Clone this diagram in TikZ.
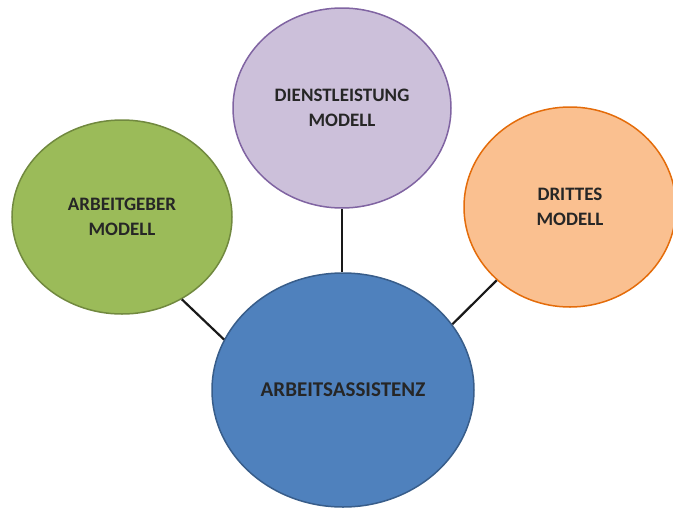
\documentclass[tikz,border=0pt]{standalone}
\usepackage{fontspec}
\setmainfont{Carlito}
\usepackage{xcolor}
\usetikzlibrary{shapes.geometric, positioning}

\definecolor{greenfill}{HTML}{9BBB59}
\definecolor{greenline}{HTML}{71893F}
\definecolor{violetfill}{HTML}{CCC0DA}
\definecolor{violetline}{HTML}{8064A2}
\definecolor{orangefill}{HTML}{FAC090}
\definecolor{orangeline}{HTML}{E46C0A}
\definecolor{bluefill}{HTML}{4F81BD}
\definecolor{blueline}{HTML}{385D8A}

\begin{document}
\begin{tikzpicture}[
    x=1pt, y=-1pt,
    bubble/.style={ellipse, line width=1.5pt, inner sep=0pt, align=center, font=\bfseries\fontsize{19}{25}\selectfont, text=black!85},
    link/.style={line width=2.2pt, black!90}
]
\useasboundingbox (0,0) rectangle (673,507);

\node[bubble, draw=blueline, fill=bluefill, minimum width=262pt, minimum height=234pt, font=\bfseries\fontsize{21}{25}\selectfont] (assistenz) at (343,390) {ARBEITSASSISTENZ};
\node[bubble, draw=greenline, fill=greenfill, minimum width=220pt, minimum height=194pt] (arbeitgeber) at (122,217) {ARBEITGEBER\\MODELL};
\node[bubble, draw=violetline, fill=violetfill, minimum width=218pt, minimum height=200pt] (dienst) at (342,108) {DIENSTLEISTUNG\\MODELL};
\node[bubble, draw=orangeline, fill=orangefill, minimum width=212pt, minimum height=200pt] (drittes) at (570,207) {DRITTES\\MODELL};

\draw[link] (arbeitgeber.-54) -- (assistenz.157);
\draw[link] (dienst.south) -- (dienst.south |- assistenz.north);
\draw[link] (drittes.-135) -- (assistenz.31);

\end{tikzpicture}
\end{document}
